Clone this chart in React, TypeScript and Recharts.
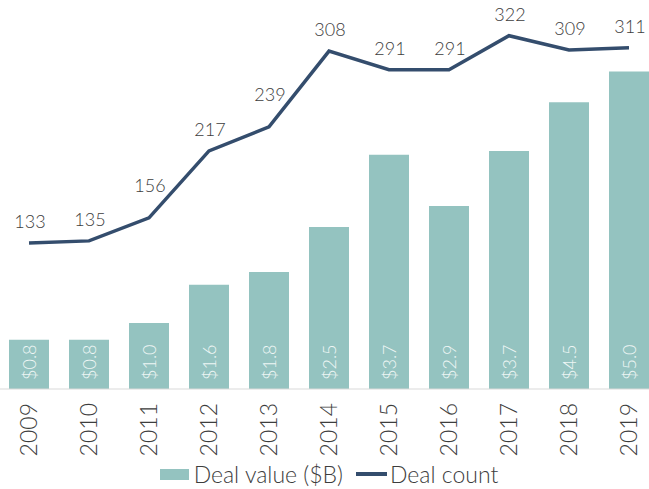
import React from "react";
import {
  Bar,
  ComposedChart,
  LabelList,
  Legend,
  Line,
  XAxis,
  YAxis,
} from "recharts";

const years = ["2009", "2010", "2011", "2012", "2013", "2014", "2015", "2016", "2017", "2018", "2019"];
const dealValue = [0.77, 0.77, 1.03, 1.63, 1.83, 2.53, 3.66, 2.86, 3.72, 4.48, 4.96];
const dealCount = [133, 135, 156, 217, 239, 308, 291, 291, 322, 309, 311];

// count labels that sit higher to stay clear of the steep segments
const liftedLabels = ["2011", "2013"];

const barColor = "#94c3c0";
const lineColor = "#344d6d";
const textColor = "#3d3d3d";
const font = "Lato, 'Open Sans', sans-serif";

const data = years.map((year, i) => ({
  year,
  value: dealValue[i],
  count: dealCount[i],
}));

const YearTick = (props: any) => {
  const { x, y, payload } = props;
  return (
    <g transform={`translate(${x},${y})`}>
      <text
        transform="rotate(-90)"
        textAnchor="end"
        dy={8}
        fontSize={23}
        fontWeight={300}
        fontFamily={font}
        fill={textColor}
      >
        {payload.value}
      </text>
    </g>
  );
};

const ValueLabel = (props: any) => {
  const { x, y, width, height, value } = props;
  const cx = x + width / 2;
  const bottom = y + height - 9;
  return (
    <text
      transform={`translate(${cx},${bottom}) rotate(-90)`}
      textAnchor="start"
      dy={6.5}
      fontSize={18}
      fontWeight={300}
      fontFamily={font}
      fill="#eef6f5"
    >
      {`$${Number(value).toFixed(1)}`}
    </text>
  );
};

const CountLabel = (props: any) => {
  const { x, y, value, index } = props;
  const lift = liftedLabels.includes(years[index]) ? 26 : 15;
  return (
    <text
      x={x + 1}
      y={y - lift}
      textAnchor="middle"
      fontSize={18}
      fontWeight={300}
      fontFamily={font}
      fill={textColor}
      stroke="none"
    >
      {value}
    </text>
  );
};

const LegendBox = () => (
  <div
    style={{
      display: "flex",
      justifyContent: "center",
      alignItems: "center",
      height: 30,
      fontFamily: font,
      fontWeight: 300,
      fontSize: 23,
      color: textColor,
    }}
  >
    <span style={{ width: 29, height: 11, background: barColor, marginRight: 5 }} />
    <span style={{ marginRight: 13 }}>Deal value ($B)</span>
    <span style={{ width: 31, height: 3.5, background: lineColor, marginRight: 3 }} />
    <span>Deal count</span>
  </div>
);

export default function App() {
  return (
    <div
      style={{
        position: "absolute",
        left: 0,
        top: 0,
        width: 649,
        height: 489,
        overflow: "hidden",
        background: "#fff",
      }}
    >
      <div style={{ position: "absolute", left: -1, top: 0 }}>
        <ComposedChart
          width={660}
          height={489}
          data={data}
          margin={{ top: 5, right: 0, bottom: 0, left: 0 }}
        >
          <XAxis
            dataKey="year"
            height={70}
            axisLine={{ stroke: "#d9d9d9" }}
            tickLine={false}
            tick={<YearTick />}
            tickMargin={8}
            interval={0}
          />
          <YAxis yAxisId="value" hide domain={[0, 6]} />
          <YAxis yAxisId="count" hide domain={[0, 350]} orientation="right" />
          <Legend verticalAlign="bottom" height={30} content={<LegendBox />} />
          <Bar
            yAxisId="value"
            dataKey="value"
            fill={barColor}
            barSize={40}
            isAnimationActive={false}
          >
            <LabelList dataKey="value" content={<ValueLabel />} />
          </Bar>
          <Line
            yAxisId="count"
            dataKey="count"
            type="linear"
            stroke={lineColor}
            strokeWidth={3.5}
            dot={false}
            activeDot={false}
            isAnimationActive={false}
          >
            <LabelList dataKey="count" content={<CountLabel />} />
          </Line>
        </ComposedChart>
      </div>
    </div>
  );
}
